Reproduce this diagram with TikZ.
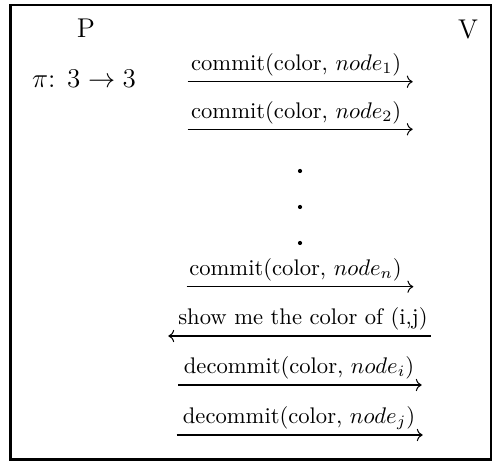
\documentclass[tikz,border=0pt]{standalone}
\usepackage{amsmath}
\usetikzlibrary{arrows.meta}
\begin{document}
\begin{tikzpicture}[x=0.4425pt,y=-0.4425pt,
  msg/.style={-{Computer Modern Rightarrow}, line width=0.45pt},
  lbl/.style={anchor=base, inner sep=0pt, font=\fontsize{10}{12}\selectfont},
  party/.style={anchor=base, inner sep=0pt, font=\large},
  pdot/.style={circle, fill, inner sep=0pt, minimum size=4.2pt*0.4425}]
\useasboundingbox (0,0) rectangle (495,462);
% frame
\draw[line width=1.15pt] (10.25,5) rectangle (491,459.5);

% the two parties
\node[party] (P) at (86,38) {P};
\node[party] (V) at (468,39) {V};
\node[party] (perm) at (84,88) {$\pi$: $3 \rightarrow 3$};

% commitments
\coordinate (c1a) at (187.7,81.7);  \coordinate (c1b) at (412.7,81.7);
\coordinate (c2a) at (187.7,129.3); \coordinate (c2b) at (412.7,129.3);
\coordinate (cna) at (186.7,286.7); \coordinate (cnb) at (413.3,286.7);
\draw[msg] (c1a) -- (c1b);
\draw[msg] (c2a) -- (c2b);
\draw[msg] (cna) -- (cnb);
\node[lbl] (l1) at (296.2,70.5) {commit(color, $node_1$)};
\node[lbl] (l2) at (296.2,118.5) {commit(color, $node_2$)};
\node[lbl] (ln) at (295.5,275.5) {commit(color, $node_n$)};

% ellipsis
\node[pdot] (d1) at (300,171) {};
\node[pdot] (d2) at (300,207) {};
\node[pdot] (d3) at (300,243) {};

% challenge
\coordinate (sa) at (430.7,336); \coordinate (sb) at (168.3,336);
\draw[msg] (sa) -- (sb);
\node[lbl] (ls) at (303,324.5) {show me the color of (i,j)};

% openings
\coordinate (dia) at (178.3,385); \coordinate (dib) at (421.7,385);
\coordinate (dja) at (176.7,435); \coordinate (djb) at (422.7,435);
\draw[msg] (dia) -- (dib);
\draw[msg] (dja) -- (djb);
\node[lbl] (li) at (299,373.5) {decommit(color, $node_i$)};
\node[lbl] (lj) at (299,423.5) {decommit(color, $node_j$)};
\end{tikzpicture}
\end{document}
